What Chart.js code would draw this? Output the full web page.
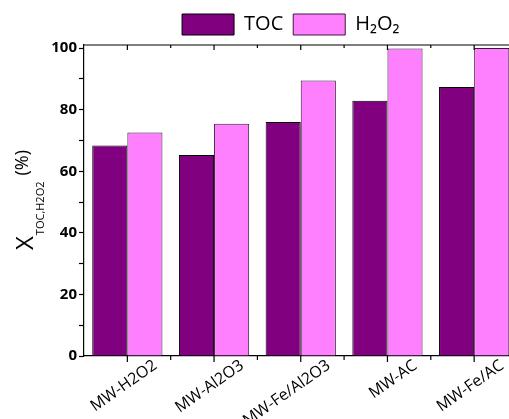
<!DOCTYPE html>
<html>
<head>
<meta charset="utf-8">
<script src="https://cdn.jsdelivr.net/npm/chart.js@4"></script>
<style>
  body { margin: 0; background: #fff; }
  #wrap { width: 509px; height: 419px; overflow: hidden; }
</style>
</head>
<body>
<div id="wrap"><canvas id="chart" width="530" height="419"></canvas></div>
<script>
// data
const categories = ['MW-H2O2', 'MW-Al2O3', 'MW-Fe/Al2O3', 'MW-AC', 'MW-Fe/AC'];
const tocValues = [68.4, 65.3, 76.0, 82.9, 87.4];
const h2o2Values = [72.6, 75.4, 89.5, 99.9, 100];
const yTicks = [0, 20, 40, 60, 80, 100];

const FONT = "'Open Sans', sans-serif";

// draws the top frame line and the small x ticks (top and bottom), plus the y title
const framePlugin = {
    id: 'frame',
    afterLayout(chart) {
        // legend sits a bit right of the canvas centre in the original
        chart.legend.left += 32;
        chart.legend.right += 32;
    },
    afterDraw(chart) {
        const ctx = chart.ctx;
        const area = chart.chartArea;
        const x = chart.scales.x;
        ctx.save();
        ctx.strokeStyle = '#000';
        ctx.lineWidth = 1.2;
        ctx.beginPath();
        ctx.moveTo(area.left, area.top);
        ctx.lineTo(area.right, area.top);
        const step = x.getPixelForValue(1) - x.getPixelForValue(0);
        for (let i = 0; i < categories.length; i++) {
            const c = x.getPixelForValue(i);
            const b = c + step / 2;
            // bottom ticks
            ctx.moveTo(c, area.bottom); ctx.lineTo(c, area.bottom + 6);
            ctx.moveTo(b, area.bottom); ctx.lineTo(b, area.bottom + 4);
            // top ticks (inward)
            ctx.moveTo(c, area.top); ctx.lineTo(c, area.top + 5);
            ctx.moveTo(b, area.top); ctx.lineTo(b, area.top + 3);
        }
        ctx.stroke();

        // y axis title X_{TOC,H2O2} (%)
        ctx.translate(33, 250);
        ctx.rotate(-Math.PI / 2);
        ctx.fillStyle = '#000';
        ctx.textBaseline = 'alphabetic';
        ctx.textAlign = 'left';
        ctx.font = '24px ' + FONT;
        ctx.fillText('X', 0, 0);
        let w = ctx.measureText('X').width;
        ctx.font = '11px ' + FONT;
        ctx.fillText('TOC,H2O2', w + 1, 11);
        w += 1 + ctx.measureText('TOC,H2O2').width;
        ctx.font = '18px ' + FONT;
        ctx.fillText('(%)', w + 6, -5);
        ctx.restore();
    }
};

new Chart(document.getElementById('chart'), {
    type: 'bar',
    data: {
        labels: categories,
        datasets: [{
            label: 'TOC',
            data: tocValues,
            backgroundColor: '#800080',
            borderColor: '#000',
            borderWidth: 1,
            barPercentage: 1,
            categoryPercentage: 0.81
        }, {
            label: 'H\u2082O\u2082',
            data: h2o2Values,
            backgroundColor: '#ff80ff',
            borderColor: '#3a1a3a',
            borderWidth: 1,
            barPercentage: 1,
            categoryPercentage: 0.81
        }]
    },
    options: {
        responsive: false,
        animation: false,
        layout: { padding: { left: 0, right: 12.5, top: 4, bottom: 0 } },
        plugins: {
            legend: {
                display: true,
                position: 'top',
                labels: {
                    boxWidth: 52,
                    boxHeight: 21,
                    padding: 10,
                    color: '#000',
                    font: { family: FONT, size: 20 }
                }
            },
            tooltip: { enabled: false }
        },
        scales: {
            x: {
                grid: { display: true, drawOnChartArea: false, drawTicks: false },
                border: { display: true, color: '#000', width: 1.2 },
                ticks: {
                    color: '#000',
                    font: { family: FONT, size: 16 },
                    minRotation: 35,
                    maxRotation: 35,
                    autoSkip: false,
                    padding: 0,
                    labelOffset: 28
                },
                afterFit: s => { s.height = 63; }
            },
            y: {
                min: 0,
                max: 101,
                grid: {
                    drawOnChartArea: false,
                    drawTicks: true,
                    tickLength: 5,
                    tickWidth: 1.2,
                    tickColor: c => (c.tick && c.tick.value % 10 === 0) ? '#000' : 'transparent'
                },
                border: { display: true, color: '#000', width: 1.2 },
                ticks: {
                    stepSize: 10,
                    includeBounds: false,
                    color: '#000',
                    padding: 2,
                    font: { family: FONT, size: 15, weight: 'bold' },
                    callback: v => yTicks.includes(v) ? v : ''
                },
                afterFit: s => { s.width = 84; }
            }
        }
    },
    plugins: [framePlugin]
});
</script>
</body>
</html>
